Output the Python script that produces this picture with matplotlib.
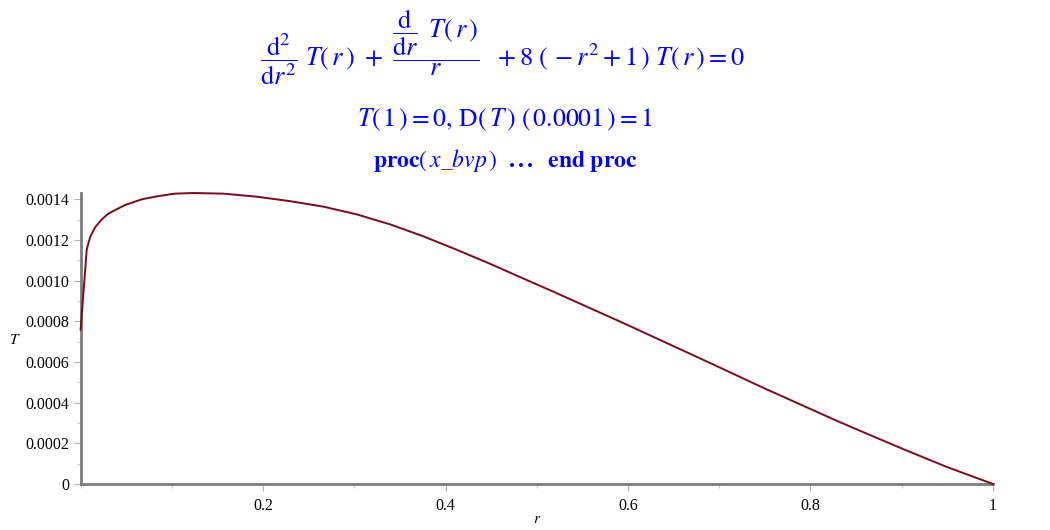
import numpy as np
import matplotlib.pyplot as plt
from matplotlib.ticker import MultipleLocator, FixedLocator

# values
r_vals = [0.0001, 0.0068, 0.0104, 0.0159, 0.0232, 0.0305, 0.0488, 0.0671,
          0.0853, 0.1036, 0.1236, 0.1565, 0.1931, 0.2296, 0.2661, 0.3027,
          0.3392, 0.3757, 0.4123, 0.4488, 0.4780, 0.5181, 0.5584, 0.5986,
          0.6387, 0.6789, 0.7082, 0.7482, 0.7885, 0.8287, 0.8688, 0.9036,
          0.9493, 1.0]
T_vals = [0.000759, 0.001154, 0.001213, 0.001262, 0.001301, 0.001330,
          0.001372, 0.001400, 0.001416, 0.001428, 0.001431, 0.001428,
          0.001413, 0.001391, 0.001364, 0.001326, 0.001277, 0.001218,
          0.001152, 0.001083, 0.001025, 0.000946, 0.000865, 0.000784,
          0.000701, 0.000618, 0.000557, 0.000473, 0.000392, 0.000311,
          0.000234, 0.000168, 0.000084, 0.0]

y_ticks = [0, 0.0002, 0.0004, 0.0006, 0.0008, 0.0010, 0.0012, 0.0014]
y_labels = ['0', '0.0002', '0.0004', '0.0006', '0.0008', '0.0010', '0.0012', '0.0014']
x_ticks = [0.2, 0.4, 0.6, 0.8, 1.0]
x_labels = ['0.2', '0.4', '0.6', '0.8', '1']

plt.rcParams['mathtext.fontset'] = 'stix'
plt.rcParams['font.family'] = ['Liberation Serif', 'DejaVu Serif']

fig = plt.figure(figsize=(10.5, 5.3), dpi=100)
ax = fig.add_axes([0.0767, 0.0868, 0.869, 0.549])

ax.plot(r_vals, T_vals, color='#7a0a1e', lw=1.4, solid_joinstyle='round',
        zorder=3, clip_on=False)
ax.set_xlim(0, 1)
ax.set_ylim(0, 0.001431)

ax.yaxis.set_major_locator(FixedLocator(y_ticks))
ax.set_yticklabels(y_labels)
ax.yaxis.set_minor_locator(MultipleLocator(0.0001))
ax.xaxis.set_major_locator(FixedLocator(x_ticks))
ax.set_xticklabels(x_labels)
ax.xaxis.set_minor_locator(MultipleLocator(0.1))

for s in ['top', 'right']:
    ax.spines[s].set_visible(False)
for s in ['left', 'bottom']:
    ax.spines[s].set_color('#7c7c7c')
    ax.spines[s].set_linewidth(2.0)
ax.tick_params(which='major', length=5, width=0.8, color='#b0b0b0', labelsize=11.5, pad=3)
ax.tick_params(which='minor', length=3, width=0.8, color='#c8c8c8')
ax.tick_params(axis='x', pad=5)

ax.set_xlabel('$r$', fontsize=11)
ax.set_ylabel('$T$', fontsize=11, rotation=0)
ax.yaxis.set_label_coords(-0.072, 0.47)
ax.xaxis.set_label_coords(0.5, -0.1)

blue = '#0000ff'
fig.text(0.479, 0.912,
         r'$\dfrac{\mathrm{d}^2}{\mathrm{d}r^2}\ T(\,r\,)\ +\ \dfrac{\dfrac{\mathrm{d}}{\mathrm{d}r}\ \,T(\,r\,)}{r}\ \ +8\ \left(\,-r^2+1\,\right)\ T(\,r\,)=0$',
         ha='center', va='center', color=blue, fontsize=19)
fig.text(0.481, 0.774, r'$T(\,1\,)=0,\,\mathrm{D}(\,T\,)\ (\,0.0001\,)=1$',
         ha='center', va='center', color=blue, fontsize=18.5)
fig.text(0.481, 0.698, r'$\mathbf{proc}(\,x\_bvp\,)\ \ \mathbf{...}\ \ \mathbf{end\ proc}$',
         ha='center', va='center', color=blue, fontsize=17)

fig.savefig('out.png', dpi=100, facecolor='white')
